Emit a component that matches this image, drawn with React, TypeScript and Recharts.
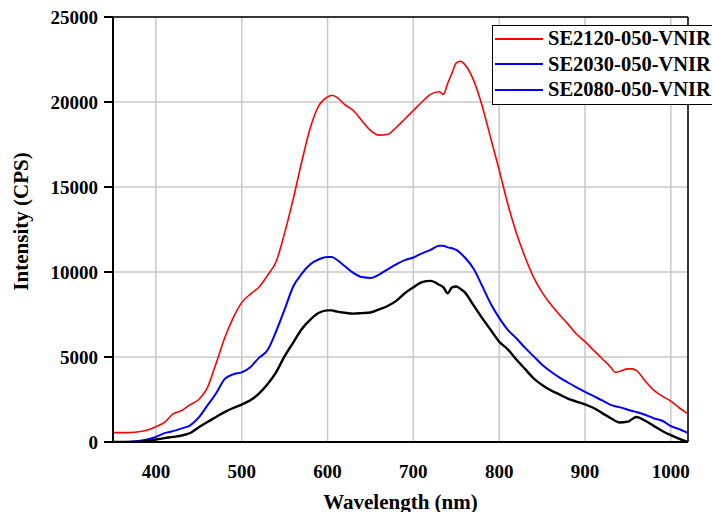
import { LineChart, Line, XAxis, YAxis, CartesianGrid, ReferenceLine } from 'recharts';

const wavelength = [
  350, 360, 370, 380, 390, 400, 410, 420, 430, 440, 450, 460, 470, 480, 490,
  500, 510, 520, 530, 540, 550, 560, 570, 580, 590, 600, 605, 610, 620, 630,
  640, 650, 660, 670, 680, 690, 700, 710, 720, 730, 735, 740, 745, 750, 755,
  760, 770, 780, 790, 800, 810, 820, 830, 840, 850, 860, 870, 880, 890, 900,
  910, 920, 930, 935, 940, 950, 955, 960, 970, 980, 990, 1000, 1010, 1020,
];

const se2120 = [
  550, 550, 560, 600, 700, 900, 1150, 1650, 1850, 2200, 2500, 3200, 4600, 6100, 7300,
  8200, 8700, 9100, 9800, 10600, 12300, 14300, 16500, 18500, 19800, 20300, 20400, 20300, 19850, 19500,
  18900, 18330, 18050, 18100, 18500, 19000, 19500, 20000, 20450, 20600, 20450, 21100, 21700, 22300, 22400,
  22200, 21300, 19800, 17900, 16000, 14000, 12300, 10900, 9700, 8800, 8100, 7500, 6950, 6350, 5900,
  5400, 4900, 4400, 4100, 4150, 4300, 4300, 4200, 3600, 3050, 2700, 2400, 2000, 1650,
];

const se2030 = [
  0, 0, 20, 60, 150, 300, 520, 640, 800, 980, 1450, 2150, 2850, 3700, 3980,
  4100, 4400, 4950, 5400, 6500, 7800, 9150, 9900, 10450, 10750, 10880, 10880, 10750, 10350, 9950,
  9700, 9650, 9850, 10150, 10450, 10700, 10850, 11100, 11300, 11550, 11550, 11450, 11400, 11300, 11100,
  10850, 10200, 9200, 8150, 7300, 6600, 6100, 5550, 5050, 4550, 4150, 3800, 3500, 3220, 2950,
  2700, 2450, 2180, 2100, 2050, 1900, 1820, 1760, 1600, 1400, 1250, 930, 750, 530,
];

const se2080 = [
  0, 0, 0, 20, 60, 150, 230, 300, 380, 530, 870, 1180, 1470, 1760, 2000,
  2200, 2450, 2850, 3400, 4100, 5050, 5850, 6650, 7200, 7600, 7740, 7740, 7680, 7600, 7550,
  7580, 7620, 7800, 8000, 8300, 8750, 9100, 9400, 9480, 9250, 9100, 8750, 9100, 9150, 9000,
  8800, 8050, 7300, 6600, 5900, 5450, 4850, 4300, 3750, 3350, 3040, 2800, 2550, 2380, 2220,
  2000, 1700, 1400, 1250, 1150, 1200, 1350, 1470, 1250, 950, 650, 400, 180, 0,
];

const xTicks = [400, 500, 600, 700, 800, 900, 1000];
const yTicks = [0, 5000, 10000, 15000, 20000, 25000];

const seriesNames = ['SE2120-050-VNIR', 'SE2030-050-VNIR', 'SE2080-050-VNIR'];
const seriesKeys = ['se2120', 'se2030', 'se2080'];
const lineColors = ['#ff0000', '#0000ff', '#000000'];
// the legend swatch of the third series is blue in the original figure
const legendColors = ['#ff0000', '#0000ff', '#0000ff'];
const lineWidths = [1.6, 2, 2.4];

const data = wavelength.map((w, i) => ({
  w,
  se2120: se2120[i],
  se2030: se2030[i],
  se2080: se2080[i],
}));

const FONT = '"Liberation Serif", "Times New Roman", serif';

function LegendBox() {
  return (
    <div
      style={{
        position: 'absolute',
        left: 492,
        top: 25,
        width: 250,
        border: '1px solid #000',
        background: '#fff',
        padding: '0 0 1px 2px',
        fontFamily: FONT,
        fontWeight: 'bold',
        fontSize: 20.5,
        lineHeight: '25.5px',
        color: '#000',
      }}
    >
      {seriesNames.map((name, i) => (
        <div key={name} style={{ display: 'flex', alignItems: 'center', whiteSpace: 'nowrap' }}>
          <span
            style={{
              display: 'inline-block',
              width: 48,
              height: 2,
              background: legendColors[i],
              marginRight: 5,
            }}
          />
          <span>{name}</span>
        </div>
      ))}
    </div>
  );
}

export default function App() {
  return (
    <div
      style={{
        position: 'absolute',
        left: 0,
        top: 0,
        width: 712,
        height: 512,
        overflow: 'hidden',
        background: '#fff',
      }}
    >
      <LineChart
        width={712}
        height={512}
        data={data}
        margin={{ top: 17, right: 24, left: 0, bottom: 0 }}
      >
        <CartesianGrid stroke="#c8c8c8" strokeWidth={1.5} />
        <XAxis
          dataKey="w"
          type="number"
          domain={[350, 1020]}
          ticks={xTicks}
          allowDataOverflow
          height={70}
          tickLine={false}
          tickMargin={17}
          axisLine={{ stroke: '#000', strokeWidth: 2 }}
          tick={{ fill: '#000', fontSize: 19, fontWeight: 'bold', fontFamily: FONT }}
          label={{
            value: 'Wavelength (nm)',
            position: 'insideBottom',
            offset: 3,
            fill: '#000',
            fontSize: 21,
            fontWeight: 'bold',
            fontFamily: FONT,
          }}
        />
        <YAxis
          domain={[0, 25000]}
          ticks={yTicks}
          allowDataOverflow
          width={113}
          tickSize={9}
          tickMargin={6}
          tickLine={{ stroke: '#000', strokeWidth: 2 }}
          axisLine={{ stroke: '#000', strokeWidth: 2 }}
          tick={{ fill: '#000', fontSize: 19, fontWeight: 'bold', fontFamily: FONT }}
          label={{
            value: 'Intensity (CPS)',
            angle: -90,
            position: 'center',
            dx: -36,
            dy: -8,
            fill: '#000',
            fontSize: 21,
            fontWeight: 'bold',
            fontFamily: FONT,
          }}
        />
        <ReferenceLine y={25000} stroke="#000" strokeWidth={1.5} />
        <ReferenceLine x={1020} stroke="#000" strokeWidth={1.5} />
        {seriesKeys.map((k, i) => (
          <Line
            key={k}
            type="monotone"
            dataKey={k}
            name={seriesNames[i]}
            stroke={lineColors[i]}
            strokeWidth={lineWidths[i]}
            dot={false}
            isAnimationActive={false}
          />
        ))}
      </LineChart>
      <LegendBox />
    </div>
  );
}
